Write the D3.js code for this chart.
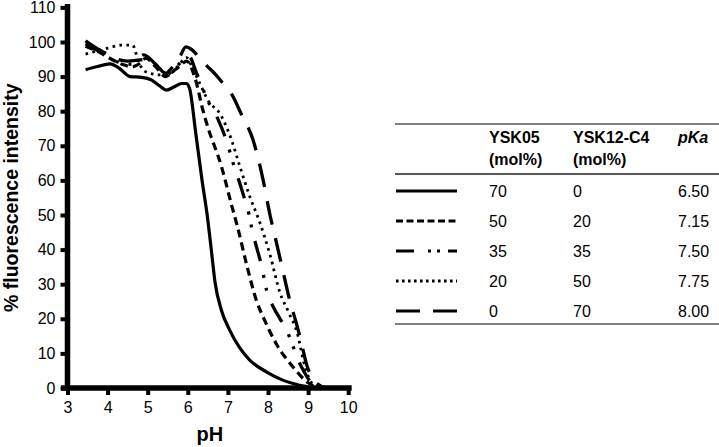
<!DOCTYPE html>
<html><head><meta charset="utf-8">
<script src="https://cdn.jsdelivr.net/npm/d3@7/dist/d3.min.js"></script>
<style>
body{margin:0;background:#fff}
svg{display:block;font-family:"Liberation Sans",Arial,Helvetica,sans-serif}
</style>
</head><body>
<svg id="chart" width="719" height="447"></svg>
<script>
// ---------- data ----------
const xTicks = [3, 4, 5, 6, 7, 8, 9, 10];
const yTicks = [0, 10, 20, 30, 40, 50, 60, 70, 80, 90, 100, 110];
const xTitle = "pH";
const yTitle = "% fluorescence intensity";

const seriesKeys = ["s70_0", "s50_20", "s35_35", "s20_50", "s0_70"];
const ysk05 = ["70", "50", "35", "20", "0"];
const ysk12 = ["0", "20", "35", "50", "70"];
const pKa = ["6.50", "7.15", "7.50", "7.75", "8.00"];
const headers = [["YSK05", "(mol%)"], ["YSK12-C4", "(mol%)"], ["pKa"]];

// [pH, % fluorescence]
const s70_0 = [[3.45,92.0],[3.75,92.9],[4.06,93.7],[4.27,92.6],[4.56,90.0],[4.85,89.8],[5.1,89.0],[5.3,87.3],[5.47,86.1],[5.65,87.0],[5.85,88.0],[5.97,88.0],[6.05,86.3],[6.2,73.5],[6.35,60.5],[6.5,48.5],[6.59,39.5],[6.68,30.5],[6.84,22.4],[7.05,16.6],[7.3,11.5],[7.55,8.0],[7.97,4.6],[8.38,2.2],[8.97,0.4]];
const s50_20 = [[3.45,98.8],[3.8,97.0],[4.1,95.0],[4.4,93.4],[4.6,92.8],[4.8,93.8],[4.95,95.3],[5.2,92.8],[5.45,90.0],[5.6,91.2],[5.8,93.0],[5.97,94.5],[6.14,91.0],[6.22,88.0],[6.35,81.5],[6.47,76.5],[6.84,64.0],[7.1,52.5],[7.23,47.0],[7.47,35.5],[7.72,25.0],[7.9,20.0],[8.22,12.5],[8.63,6.0],[9.0,1.5],[9.25,0]];
const s35_35 = [[3.45,99.5],[3.75,97.5],[4.0,96.0],[4.3,94.0],[4.6,93.6],[4.9,96.3],[5.2,93.5],[5.45,90.5],[5.65,92.0],[5.85,94.5],[6.02,96.0],[6.22,91.0],[6.5,83.0],[6.76,77.5],[6.93,72.6],[7.05,68.2],[7.13,65.0],[7.26,60.5],[7.43,54.1],[7.53,50.0],[7.59,46.5],[7.68,42.2],[7.84,35.3],[7.97,28.0],[8.13,23.5],[8.3,20.0],[8.43,17.6],[8.6,12.8],[8.72,8.9],[8.93,4.1],[9.15,0]];
const s20_50 = [[3.45,96.5],[3.7,97.3],[4.0,98.2],[4.35,99.1],[4.62,99.1],[4.78,94.0],[4.95,91.4],[5.3,90.5],[5.55,90.8],[5.75,93.0],[5.97,95.5],[6.1,93.0],[6.3,88.0],[6.55,82.3],[6.76,80.0],[7.05,73.0],[7.3,64.0],[7.55,55.2],[7.76,49.0],[8.05,38.5],[8.3,27.5],[8.51,22.0],[8.75,15.0],[8.88,8.0],[9.05,2.2],[9.2,0]];
const s0_70 = [[3.45,100.3],[3.75,98.0],[4.0,96.5],[4.25,95.0],[4.5,94.5],[4.8,94.8],[5.0,95.0],[5.2,93.5],[5.45,91.0],[5.6,92.5],[5.8,95.7],[5.95,98.6],[6.1,97.8],[6.25,96.0],[6.47,93.2],[6.7,90.5],[6.88,88.0],[7.09,85.0],[7.34,79.0],[7.63,71.6],[7.88,60.0],[8.05,50.0],[8.2,42.5],[8.34,35.5],[8.55,25.0],[8.7,19.0],[8.8,14.7],[8.97,6.5],[9.2,1.5],[9.45,0]];

const seriesData = [s70_0, s50_20, s35_35, s20_50, s0_70];

// ---------- styles ----------
const dashPlot = [null, "8,5", "21,14,3,10,3,14", "2.6,4.4", "24,14"];
const dashLegend = [null, "7,3.5", "18,14,3,6,3,8", "2.6,3.4", "24,13"];
const widthPlot = [3.2, 3.2, 3.3, 2.8, 3.3];

const svg = d3.select("#chart");
const x = d3.scaleLinear().domain([3, 10]).range([67.5, 348.2]);
const y = d3.scaleLinear().domain([0, 110]).range([388, 7.4]);

// ---------- axes ----------
const gx = svg.append("g").attr("transform", `translate(0,${y(0)})`)
  .call(d3.axisBottom(x).tickValues(xTicks).tickSize(7).tickSizeOuter(0).tickPadding(7).tickFormat(d3.format("d")));
const gy = svg.append("g").attr("transform", `translate(${x(3)},0)`)
  .call(d3.axisLeft(y).tickValues(yTicks).tickSize(7).tickSizeOuter(0).tickPadding(5).tickFormat(d3.format("d")));
[gx, gy].forEach(g => {
  g.select(".domain").remove();
  g.selectAll(".tick line").attr("stroke", "#000").attr("stroke-width", 4);
  g.selectAll(".tick text").attr("fill", "#000").attr("font-size", 16)
    .attr("font-family", '"Liberation Sans",Arial,sans-serif');
});
// axis bars
svg.append("line").attr("x1", x(3)).attr("x2", x(3)).attr("y1", y(110) - 3.5).attr("y2", y(0) + 2.75)
  .attr("stroke", "#000").attr("stroke-width", 5.5);
svg.append("line").attr("x1", x(3) - 6.5).attr("x2", x(10) + 3.5).attr("y1", y(0)).attr("y2", y(0))
  .attr("stroke", "#000").attr("stroke-width", 5.5);

// titles
svg.append("text").attr("x", (x(3) + x(10)) / 2 + 2).attr("y", 441).attr("text-anchor", "middle")
  .attr("font-weight", "bold").attr("font-size", 20).text(xTitle);
svg.append("text").attr("transform", `translate(18,${(y(0) + y(110)) / 2}) rotate(-90)`)
  .attr("text-anchor", "middle").attr("font-weight", "bold").attr("font-size", 19.5).text(yTitle);

// ---------- curves ----------
const line = d3.line().x(d => x(d[0])).y(d => y(d[1])).curve(d3.curveMonotoneX);
seriesData.forEach((s, i) => {
  svg.append("path").datum(s).attr("d", line).attr("fill", "none").attr("stroke", "#000")
    .attr("stroke-width", widthPlot[i]).attr("stroke-dasharray", dashPlot[i])
    .attr("stroke-linejoin", "round");
});

// ---------- legend table ----------
const tx0 = 395, tx1 = 719;
const colX = [489, 573, 678];
const rowY = [191, 221, 251, 281, 311];
const tbl = svg.append("g");
[[124, "#555"], [174, "#222"], [324, "#555"]].forEach(([yy, c]) => {
  tbl.append("line").attr("x1", tx0).attr("x2", tx1).attr("y1", yy).attr("y2", yy)
    .attr("stroke", c).attr("stroke-width", 1.5);
});
headers.forEach((h, j) => {
  h.forEach((t, k) => {
    tbl.append("text").attr("x", colX[j]).attr("y", 143 + k * 22)
      .attr("font-size", 16).attr("font-weight", "bold")
      .attr("font-style", t === "pKa" ? "italic" : "normal").text(t);
  });
});
seriesKeys.forEach((k, i) => {
  const yy = rowY[i];
  tbl.append("line").attr("x1", 396).attr("x2", 457).attr("y1", yy).attr("y2", yy)
    .attr("stroke", "#000").attr("stroke-width", 3.2).attr("stroke-dasharray", dashLegend[i]);
  [ysk05[i], ysk12[i], pKa[i]].forEach((t, j) => {
    tbl.append("text").attr("x", colX[j]).attr("y", yy + 6).attr("font-size", 16).text(t);
  });
});
</script>
</body></html>
